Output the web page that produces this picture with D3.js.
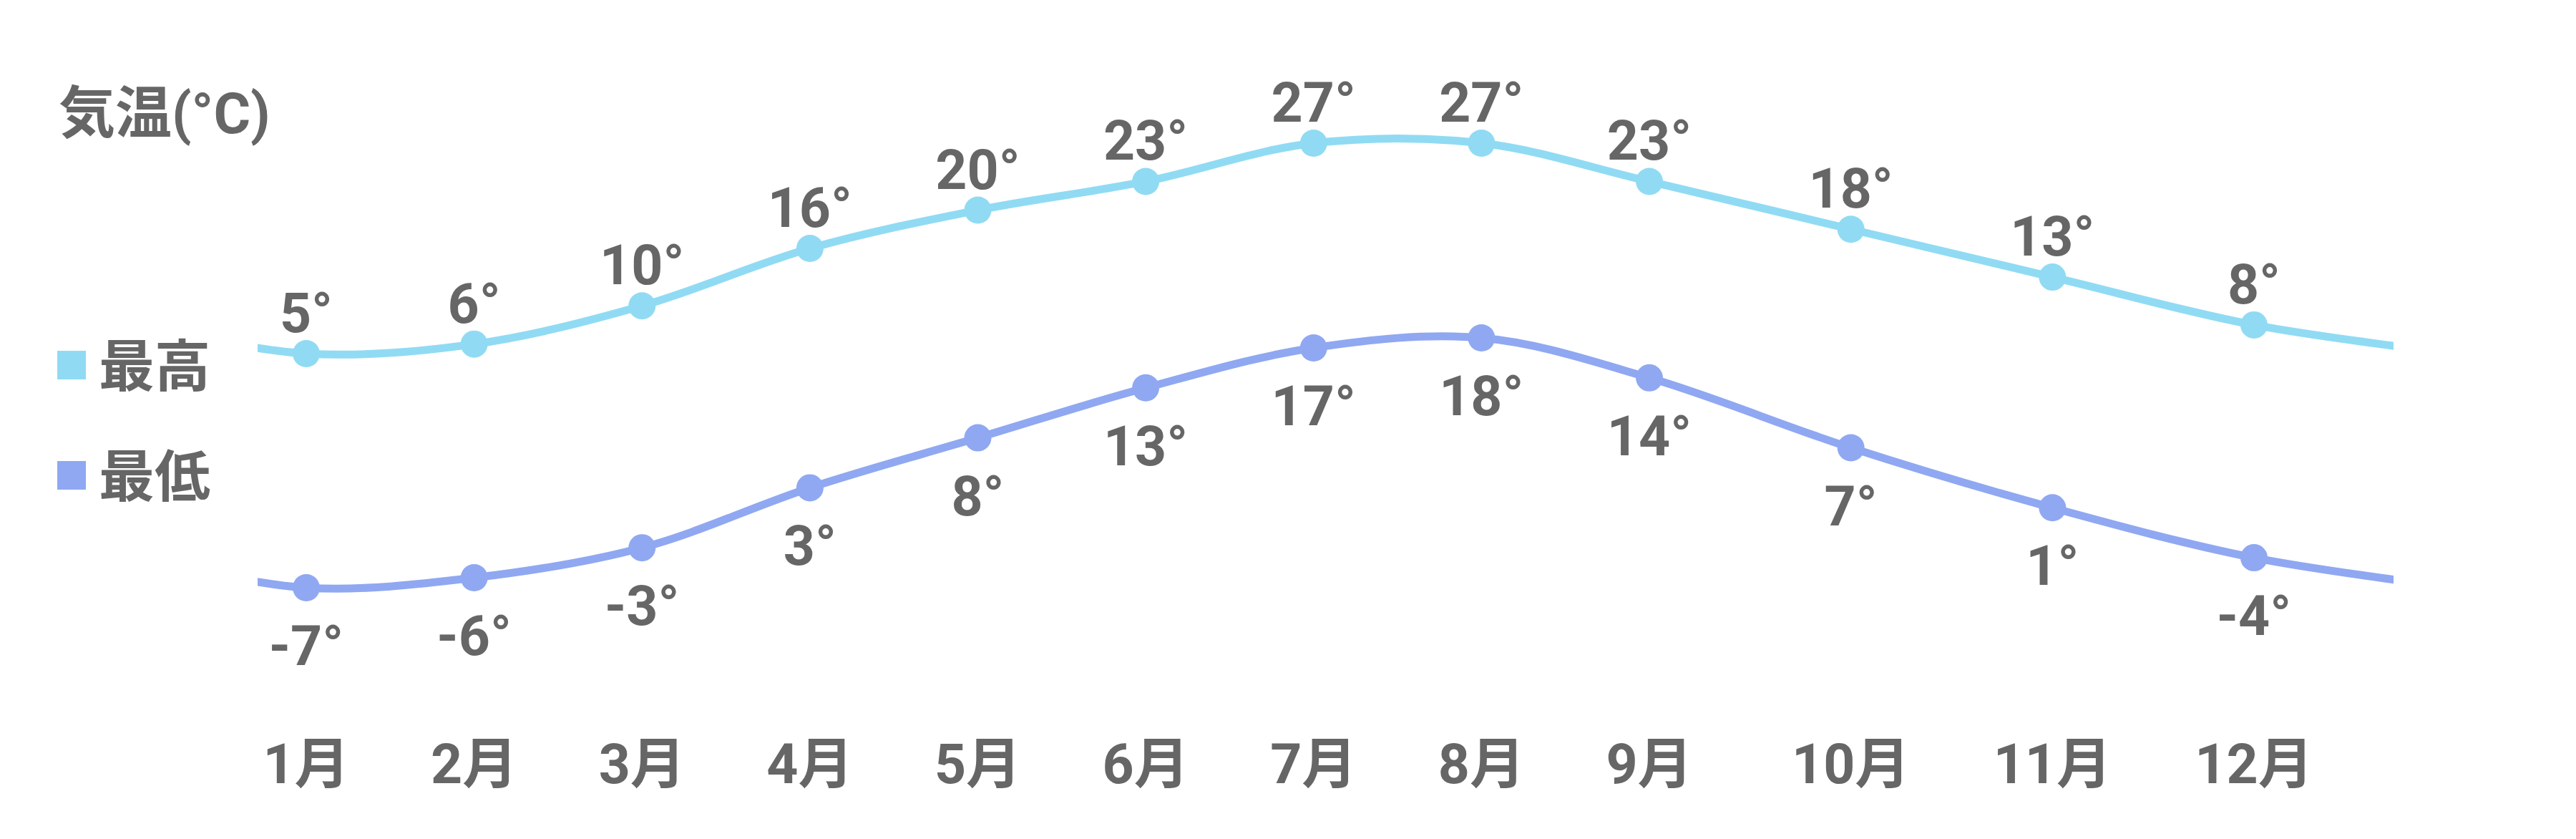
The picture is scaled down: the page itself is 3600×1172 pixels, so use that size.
<!DOCTYPE html>
<html>
<head>
<meta charset="utf-8">
<script src="https://cdn.jsdelivr.net/npm/d3@7"></script>
<style>
  html, body { margin: 0; padding: 0; background: #fff; }
  text { font-family: Roboto, "Noto Sans CJK JP", sans-serif; font-weight: 700; fill: #666; }
</style>
</head>
<body>
<div id="chart"></div>
<script>
// monthly temperatures
const months = ["1月", "2月", "3月", "4月", "5月", "6月", "7月", "8月", "9月", "10月", "11月", "12月"];
const highs = [5, 6, 10, 16, 20, 23, 27, 27, 23, 18, 13, 8];
const lows = [-7, -6, -3, 3, 8, 13, 17, 18, 14, 7, 1, -4];
const seriesNames = ["最高", "最低"];
const title = "気温(°C)";

const W = 3600, H = 1172;
const colHigh = "#90dbf3", colLow = "#8fa8f1";

const svg = d3.select("#chart").append("svg")
    .attr("width", W)
    .attr("height", H);

svg.append("rect").attr("width", W).attr("height", H).attr("fill", "#fff");

// the autumn months sit a little wider apart than the rest
const x = d3.scaleLinear().domain([0, 8, 11]).range([428, 2305, 3150]);
// each line has its own vertical band, no y axis is shown
const yHigh = d3.scaleLinear().domain([5, 27]).range([494, 200]);
const yLow = d3.scaleLinear().domain([-7, 18]).range([821, 472]);

svg.append("defs").append("clipPath").attr("id", "plotclip")
    .append("rect")
    .attr("x", 360).attr("y", 0)
    .attr("width", 3345 - 360).attr("height", H);

// wrap december / january around the ends so the curve runs off the edges
function wrapped(vals) {
    const pts = vals.map((v, i) => [i, v]);
    return [[-1, vals[vals.length - 1]]].concat(pts, [[vals.length, vals[0]]]);
}

function drawSeries(vals, y, color, above) {
    const line = d3.line()
        .x(d => x(d[0]))
        .y(d => y(d[1]))
        .curve(d3.curveCatmullRom.alpha(0.5));

    svg.append("path")
        .datum(wrapped(vals))
        .attr("clip-path", "url(#plotclip)")
        .attr("d", line)
        .attr("fill", "none")
        .attr("stroke", color)
        .attr("stroke-width", 11);

    svg.append("g").selectAll("circle")
        .data(vals)
        .enter()
        .append("circle")
        .attr("cx", (d, i) => x(i))
        .attr("cy", d => y(d))
        .attr("r", 19)
        .attr("fill", color);

    svg.append("g").selectAll("text")
        .data(vals)
        .enter()
        .append("text")
        .attr("x", (d, i) => x(i))
        .attr("y", d => above ? y(d) - 30 : y(d) + 108)
        .attr("text-anchor", "middle")
        .attr("font-size", 77)
        .text(d => d + "°");
}

drawSeries(highs, yHigh, colHigh, true);
drawSeries(lows, yLow, colLow, false);

// month labels
svg.append("g").selectAll("text")
    .data(months)
    .enter()
    .append("text")
    .attr("x", (d, i) => x(i))
    .attr("y", 1094)
    .attr("text-anchor", "middle")
    .attr("font-size", 77)
    .text(d => d);

// title
svg.append("text")
    .attr("x", 82)
    .attr("y", 186)
    .attr("font-size", 79)
    .text(title);

// legend
const legend = svg.append("g").selectAll("g")
    .data(seriesNames)
    .enter()
    .append("g")
    .attr("transform", (d, i) => `translate(80,${490 + i * 154})`);

legend.append("rect")
    .attr("width", 40).attr("height", 40)
    .attr("fill", (d, i) => i === 0 ? colHigh : colLow);

legend.append("text")
    .attr("x", 58)
    .attr("y", 50)
    .attr("font-size", 78)
    .text(d => d);
</script>
</body>
</html>
